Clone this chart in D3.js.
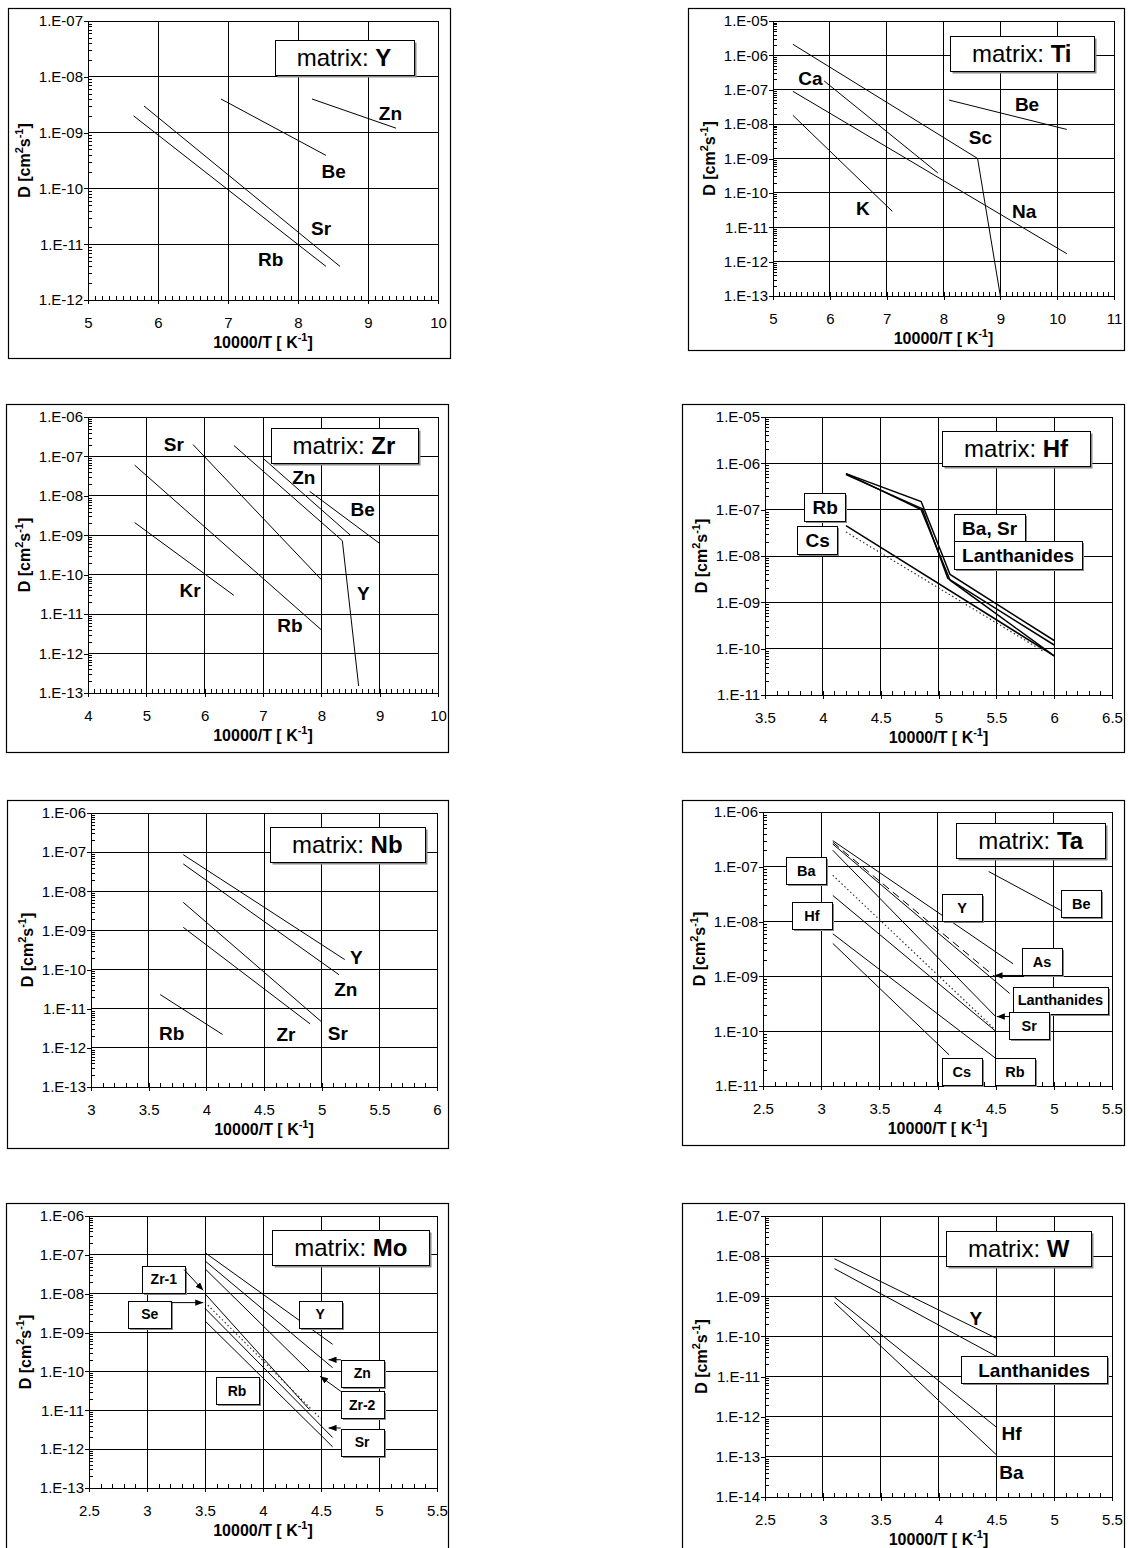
<!DOCTYPE html>
<html>
<head>
<meta charset="utf-8">
<script src="https://cdn.jsdelivr.net/npm/d3@7"></script>
<style>
  html, body { margin: 0; padding: 0; background: #fff; }
  svg { display: block; font-family: "Liberation Sans", Arial, Helvetica, sans-serif; }
  text { white-space: pre; }
</style>
</head>
<body>
<svg id="chart" width="1128" height="1548"></svg>
<script>
// Arrhenius plots: diffusion coefficient D [cm^2 s^-1] of impurity elements
// against 10000/T in eight metal matrices. Each series is a straight or
// kinked segment given by [10000/T, D] points.

// ---------- matrix: Y ----------
const yMatrixX = [5, 10];
const yMatrixD = [1e-12, 1e-7];
const yMatrixSeries = [
  { el: 'Rb', pts: [[5.65, 2.0e-9], [8.4, 4.0e-12]] },
  { el: 'Sr', pts: [[5.8, 3.0e-9], [8.6, 4.0e-12]] },
  { el: 'Be', pts: [[6.9, 4.0e-9], [8.4, 3.9e-10]] },
  { el: 'Zn', pts: [[8.2, 4.0e-9], [9.4, 1.2e-9]] }
];
const yMatrixLabels = [
  { text: 'Zn', at: [9.32, 2.2e-9] },
  { text: 'Be', at: [8.51, 2.0e-10] },
  { text: 'Sr', at: [8.33, 1.9e-11] },
  { text: 'Rb', at: [7.61, 5.3e-12] }
];

// ---------- matrix: Ti ----------
const tiMatrixX = [5, 11];
const tiMatrixD = [1e-13, 1e-5];
const tiMatrixSeries = [
  { el: 'Sc', pts: [[5.35, 2.1e-6], [8.6, 1.0e-9], [9.0, 1.0e-13]] },
  { el: 'Ca', pts: [[5.9, 1.8e-7], [7.9, 3.8e-10]] },
  { el: 'Na', pts: [[5.35, 9.0e-8], [10.17, 1.7e-12]] },
  { el: 'K',  pts: [[5.35, 1.8e-8], [7.1, 2.9e-11]] },
  { el: 'Be', pts: [[8.1, 5.0e-8], [10.17, 7.0e-9]] }
];
const tiMatrixLabels = [
  { text: 'Ca', at: [5.66, 2.2e-7] },
  { text: 'Be', at: [9.47, 3.8e-8] },
  { text: 'Sc', at: [8.65, 4.2e-9] },
  { text: 'K',  at: [6.58, 3.7e-11] },
  { text: 'Na', at: [9.42, 3.0e-11] }
];

// ---------- matrix: Zr ----------
const zrMatrixX = [4, 10];
const zrMatrixD = [1e-13, 1e-6];
const zrMatrixSeries = [
  { el: 'Sr', pts: [[5.8, 2.0e-7], [8.0, 7.5e-11]] },
  { el: 'Rb', pts: [[4.8, 6.0e-8], [8.0, 4.0e-12]] },
  { el: 'Kr', pts: [[4.8, 2.1e-9], [6.5, 3.0e-11]] },
  { el: 'Y',  pts: [[6.5, 1.9e-7], [8.36, 7.3e-10], [8.64, 1.5e-13]] },
  { el: 'Zn', pts: [[7.0, 9.0e-8], [8.5, 1.0e-9]] },
  { el: 'Be', pts: [[7.8, 1.3e-8], [9.0, 6.2e-10]] }
];
const zrMatrixLabels = [
  { text: 'Sr', at: [5.47, 2.0e-7] },
  { text: 'Zn', at: [7.70, 3.0e-8] },
  { text: 'Be', at: [8.71, 4.6e-9] },
  { text: 'Kr', at: [5.75, 4.1e-11] },
  { text: 'Y',  at: [8.72, 3.4e-11] },
  { text: 'Rb', at: [7.46, 5.2e-12] }
];

// ---------- matrix: Hf ----------
const hfMatrixX = [3.5, 6.5];
const hfMatrixD = [1e-11, 1e-5];
const hfMatrixSeries = [
  { el: 'Ba', pts: [[4.2, 6.0e-7], [4.85, 1.5e-7], [5.1, 4.0e-9], [6.0, 1.5e-10]] },
  { el: 'Sr', pts: [[4.2, 6.0e-7], [4.85, 1.0e-7], [5.1, 3.0e-9], [6.0, 7.0e-11]] },
  { el: 'Lanthanides', pts: [[4.2, 5.7e-7], [4.86, 1.05e-7], [5.08, 3.3e-9], [6.0, 1.2e-10]] },
  { el: 'Rb', pts: [[4.2, 4.5e-8], [6.0, 7.0e-11]] },
  { el: 'Cs', pts: [[4.2, 3.3e-8], [5.9, 9.0e-11]] }
];
const hfMatrixLabels = [
  { text: 'Rb', at: [4.02, 1.13e-7] },
  { text: 'Cs', at: [3.955, 2.23e-8] },
  { text: 'Ba, Sr', at: [5.135, 4.0e-8] },
  { text: 'Lanthanides', at: [5.135, 1.03e-8] }
];

// ---------- matrix: Nb ----------
const nbMatrixX = [3, 6];
const nbMatrixD = [1e-13, 1e-6];
const nbMatrixSeries = [
  { el: 'Y',  pts: [[3.8, 8.6e-8], [5.2, 1.8e-10]] },
  { el: 'Zn', pts: [[3.8, 5.0e-8], [5.15, 7.4e-11]] },
  { el: 'Sr', pts: [[3.8, 5.2e-9], [5.0, 4.6e-12]] },
  { el: 'Zr', pts: [[3.8, 1.2e-9], [4.9, 4.1e-12]] },
  { el: 'Rb', pts: [[3.6, 2.3e-11], [4.14, 2.2e-12]] }
];
const nbMatrixLabels = [
  { text: 'Y',  at: [5.30, 2.1e-10] },
  { text: 'Zn', at: [5.21, 3.1e-11] },
  { text: 'Sr', at: [5.14, 2.4e-12] },
  { text: 'Zr', at: [4.69, 2.2e-12] },
  { text: 'Rb', at: [3.70, 2.4e-12] }
];

// ---------- matrix: Ta ----------
const taMatrixX = [2.5, 5.5];
const taMatrixD = [1e-11, 1e-6];
const taMatrixSeries = [
  { el: 'Y',  pts: [[3.1, 3.0e-7], [4.65, 1.7e-9]] },
  { el: 'As', pts: [[3.1, 2.8e-7], [4.49, 1.0e-9]] },
  { el: 'Lanthanides', pts: [[3.1, 2.6e-7], [4.62, 4.9e-10]] },
  { el: 'Sr', pts: [[3.1, 2.0e-7], [4.5, 1.85e-10]] },
  { el: 'Ba', pts: [[3.1, 7.0e-8], [4.5, 1.05e-10]] },
  { el: 'Hf', pts: [[3.1, 3.0e-8], [4.5, 1.0e-10]] },
  { el: 'Rb', pts: [[3.1, 6.0e-9], [4.5, 3.2e-11]] },
  { el: 'Cs', pts: [[3.1, 4.0e-9], [4.1, 3.7e-11]] },
  { el: 'Be', pts: [[4.44, 8.2e-8], [5.06, 1.6e-8]] }
];
const taMatrixLabels = [
  { text: 'Ba', at: [2.872, 8.6e-8] },
  { text: 'Hf', at: [2.921, 1.3e-8] },
  { text: 'Y',  at: [4.211, 1.79e-8] },
  { text: 'Be', at: [5.236, 2.1e-8] },
  { text: 'As', at: [4.898, 1.84e-9] },
  { text: 'Lanthanides', at: [5.056, 3.7e-10] },
  { text: 'Sr', at: [4.789, 1.25e-10] },
  { text: 'Cs', at: [4.208, 1.83e-11] },
  { text: 'Rb', at: [4.666, 1.83e-11] }
];
const taMatrixArrows = [
  { from: [4.729, 1.04e-9], to: [4.49, 1.04e-9] },
  { from: [4.62, 1.85e-10], to: [4.51, 1.85e-10] }
];

// ---------- matrix: Mo ----------
const moMatrixX = [2.5, 5.5];
const moMatrixD = [1e-13, 1e-6];
const moMatrixSeries = [
  { el: 'Y',    pts: [[3.5, 1.14e-7], [4.6, 5.0e-10]] },
  { el: 'Zn',   pts: [[3.5, 7.0e-8], [4.6, 1.25e-10]] },
  { el: 'Zr-2', pts: [[3.5, 4.4e-8], [4.4, 1.0e-10]] },
  { el: 'Zr-1', pts: [[3.5, 1.0e-8], [4.4, 1.05e-11]] },
  { el: 'Se',   pts: [[3.5, 6.0e-9], [4.5, 6.0e-12]] },
  { el: 'Sr',   pts: [[3.5, 4.2e-9], [4.6, 2.0e-12]] },
  { el: 'Rb',   pts: [[3.5, 2.0e-9], [4.6, 1.15e-12]] }
];
const moMatrixLabels = [
  { text: 'Zr-1', at: [3.145, 2.35e-8] },
  { text: 'Se',   at: [3.024, 2.95e-9] },
  { text: 'Y',    at: [4.492, 3.0e-9] },
  { text: 'Zn',   at: [4.855, 8.9e-11] },
  { text: 'Zr-2', at: [4.855, 1.37e-11] },
  { text: 'Sr',   at: [4.855, 1.5e-12] },
  { text: 'Rb',   at: [3.776, 3.2e-11] }
];
const moMatrixArrows = [
  { from: [3.32, 4.16e-8], to: [3.485, 1.22e-8] },
  { from: [3.205, 5.9e-9], to: [3.485, 5.9e-9] },
  { from: [4.671, 2.0e-10], to: [4.565, 2.0e-10] },
  { from: [4.671, 3.08e-11], to: [4.492, 7.5e-11] },
  { from: [4.671, 3.5e-12], to: [4.565, 3.5e-12] }
];

// ---------- matrix: W ----------
const wMatrixX = [2.5, 5.5];
const wMatrixD = [1e-14, 1e-7];
const wMatrixSeries = [
  { el: 'Y',  pts: [[3.1, 8.6e-9], [4.5, 9.0e-11]] },
  { el: 'Lanthanides', pts: [[3.1, 4.9e-9], [4.5, 3.2e-11]] },
  { el: 'Hf', pts: [[3.1, 9.6e-10], [4.5, 5.5e-13]] },
  { el: 'Ba', pts: [[3.1, 7.0e-10], [4.5, 1.13e-13]] }
];
const wMatrixLabels = [
  { text: 'Y',  at: [4.323, 2.8e-10] },
  { text: 'Lanthanides', at: [4.827, 1.46e-11] },
  { text: 'Hf', at: [4.631, 3.8e-13] },
  { text: 'Ba', at: [4.631, 4.2e-14] }
];

// Where each matrix name box sits, in data units of its own panel.
const matrixNames = ['Y', 'Ti', 'Zr', 'Hf', 'Nb', 'Ta', 'Mo', 'W'];
const matrixNameAt = [
  [8.657, 2.23e-8], [9.377, 1.12e-6], [8.387, 1.92e-7], [5.671, 2.08e-6],
  [5.222, 1.58e-7], [4.801, 3.08e-7], [4.757, 1.53e-7], [4.694, 1.56e-8]
];

// ---------- page layout (pixels) and drawing styles ----------
const panels = [
  { frame: [8, 8, 450, 358],     plot: [88, 21, 438, 300],    xDomain: yMatrixX,  dDomain: yMatrixD,  xStep: 1,
    series: yMatrixSeries,  labels: yMatrixLabels,  labelSize: 19 },
  { frame: [688, 8, 1124, 350],  plot: [773, 21, 1114, 296],  xDomain: tiMatrixX, dDomain: tiMatrixD, xStep: 1,
    series: tiMatrixSeries, labels: tiMatrixLabels, labelSize: 19 },
  { frame: [6, 404, 448, 752],   plot: [88, 417, 438, 693],   xDomain: zrMatrixX, dDomain: zrMatrixD, xStep: 1,
    series: zrMatrixSeries, labels: zrMatrixLabels, labelSize: 19 },
  { frame: [682, 404, 1124, 752], plot: [765, 417, 1112, 695], xDomain: hfMatrixX, dDomain: hfMatrixD, xStep: 0.5,
    series: hfMatrixSeries, labels: hfMatrixLabels, labelSize: 19, lineWidth: 1.5,
    styles: { Cs: 'dot' }, boxed: 'all', boxPad: 8, boxMinW: 40, boxH: 28, alignLeft: ['Ba, Sr', 'Lanthanides'] },
  { frame: [7, 800, 448, 1148],  plot: [91, 813, 437, 1087],  xDomain: nbMatrixX, dDomain: nbMatrixD, xStep: 0.5,
    series: nbMatrixSeries, labels: nbMatrixLabels, labelSize: 19 },
  { frame: [682, 800, 1124, 1145], plot: [763, 812, 1112, 1086], xDomain: taMatrixX, dDomain: taMatrixD, xStep: 0.5,
    series: taMatrixSeries, labels: taMatrixLabels, labelSize: 14.5, arrows: taMatrixArrows,
    styles: { As: 'dash', Ba: 'dot' }, boxed: 'all', boxPad: 5, boxMinW: 40, boxH: 27 },
  { frame: [6, 1203, 448, 1600], plot: [89, 1216, 437, 1488], xDomain: moMatrixX, dDomain: moMatrixD, xStep: 0.5,
    series: moMatrixSeries, labels: moMatrixLabels, labelSize: 14, arrows: moMatrixArrows,
    styles: { Se: 'dot' }, boxed: 'all', boxPad: 5, boxMinW: 43, boxH: 27 },
  { frame: [682, 1203, 1124, 1600], plot: [765, 1216, 1112, 1497], xDomain: wMatrixX, dDomain: wMatrixD, xStep: 0.5,
    series: wMatrixSeries, labels: wMatrixLabels, labelSize: 19,
    boxed: ['Lanthanides'], boxPad: 17, boxMinW: 40, boxH: 27 }
];

const svg = d3.select('#chart');

const defs = svg.append('defs');
defs.append('marker')
  .attr('id', 'arrowhead')
  .attr('viewBox', '0 0 10 8')
  .attr('refX', 10).attr('refY', 4)
  .attr('markerWidth', 8).attr('markerHeight', 6.4)
  .attr('markerUnits', 'userSpaceOnUse')
  .attr('orient', 'auto')
  .append('path').attr('d', 'M0,0 L10,4 L0,8 Z').attr('fill', '#000');

const fmtE = d => {
  const e = Math.round(Math.log10(d));
  return '1.E' + (e < 0 ? '-' : '+') + String(Math.abs(e)).padStart(2, '0');
};
const fmtX = d => String(Math.round(d * 10) / 10);

// Text with raised parts, e.g. cm² s⁻¹
function richText(sel, parts, size) {
  const sup = Math.round(size * 0.68);
  let raised = false;
  parts.forEach(([txt, isSup]) => {
    const ts = sel.append('tspan').text(txt);
    if (isSup && !raised) { ts.attr('dy', -size * 0.42).attr('font-size', sup); raised = true; }
    else if (isSup) { ts.attr('font-size', sup); }
    else if (!isSup && raised) { ts.attr('dy', size * 0.42); raised = false; }
  });
}

function boxRect(g, before, x0, y0, w, h, shadow) {
  g.insert('rect', () => before)
    .attr('x', x0 + shadow).attr('y', y0 + shadow).attr('width', w).attr('height', h)
    .attr('fill', '#8a8a8a');
  g.insert('rect', () => before)
    .attr('x', x0).attr('y', y0).attr('width', w).attr('height', h)
    .attr('fill', '#fff').attr('stroke', '#000').attr('stroke-width', 1);
}

panels.forEach((p, idx) => {
  const [fx0, fy0, fx1, fy1] = p.frame;
  const [px0, py0, px1, py1] = p.plot;
  const g = svg.append('g');

  g.append('rect')
    .attr('x', fx0 + 0.5).attr('y', fy0 + 0.5)
    .attr('width', fx1 - fx0).attr('height', fy1 - fy0)
    .attr('fill', '#fff').attr('stroke', '#000').attr('stroke-width', 1.2);

  const x = d3.scaleLinear().domain(p.xDomain).range([px0, px1]);
  const y = d3.scaleLog().domain(p.dDomain).range([py1, py0]);

  const e0 = Math.round(Math.log10(p.dDomain[0]));
  const e1 = Math.round(Math.log10(p.dDomain[1]));
  const majorD = d3.range(e0, e1 + 1).map(e => Math.pow(10, e));
  const minorD = [];
  for (let e = e0; e < e1; e++) for (let m = 2; m <= 9; m++) minorD.push(m * Math.pow(10, e));
  const nMaj = Math.round((p.xDomain[1] - p.xDomain[0]) / p.xStep);
  const majorX = d3.range(nMaj + 1).map(i => p.xDomain[0] + i * p.xStep);
  const nMin = Math.round((p.xDomain[1] - p.xDomain[0]) * 10);
  const minorX = d3.range(nMin + 1).map(i => p.xDomain[0] + i / 10);

  // major grid
  const grid = g.append('g').attr('stroke', '#000').attr('stroke-width', 1).attr('shape-rendering', 'crispEdges');
  grid.selectAll('line.v').data(majorX).join('line').attr('class', 'v')
    .attr('x1', d => x(d)).attr('x2', d => x(d)).attr('y1', py0).attr('y2', py1);
  grid.selectAll('line.h').data(majorD).join('line').attr('class', 'h')
    .attr('y1', d => y(d)).attr('y2', d => y(d)).attr('x1', px0).attr('x2', px1);
  g.append('rect').attr('x', px0).attr('y', py0).attr('width', px1 - px0).attr('height', py1 - py0)
    .attr('fill', 'none').attr('stroke', '#000').attr('shape-rendering', 'crispEdges');

  const styleAxis = sel => sel
    .attr('font-family', '"Liberation Sans", Arial, sans-serif')
    .attr('font-size', 15)
    .attr('shape-rendering', 'crispEdges');

  // minor ticks (inside)
  g.append('g').attr('transform', `translate(${px0},0)`)
    .call(d3.axisLeft(y).tickValues(minorD).tickFormat('').tickSizeInner(-4).tickSizeOuter(0))
    .call(styleAxis).select('.domain').remove();
  g.append('g').attr('transform', `translate(0,${py1})`)
    .call(d3.axisBottom(x).tickValues(minorX).tickFormat('').tickSizeInner(-4).tickSizeOuter(0))
    .call(styleAxis).select('.domain').remove();

  // major axes
  g.append('g').attr('transform', `translate(${px0},0)`)
    .call(d3.axisLeft(y).tickValues(majorD).tickFormat(fmtE).tickSizeInner(4).tickSizeOuter(0).tickPadding(1))
    .call(styleAxis);
  g.append('g').attr('transform', `translate(0,${py1})`)
    .call(d3.axisBottom(x).tickValues(majorX).tickFormat(fmtX).tickSizeInner(4).tickSizeOuter(0).tickPadding(13))
    .call(styleAxis);

  // axis titles
  const xt = g.append('text')
    .attr('x', (px0 + px1) / 2).attr('y', py1 + 48)
    .attr('text-anchor', 'middle').attr('font-weight', 'bold').attr('font-size', 16);
  richText(xt, [['10000/T [ K', false], ['-1', true], [']', false]], 16);
  const yt = g.append('text')
    .attr('transform', `translate(${px0 - 58},${(py0 + py1) / 2}) rotate(-90)`)
    .attr('text-anchor', 'middle').attr('font-weight', 'bold').attr('font-size', 16);
  richText(yt, [['D [cm', false], ['2', true], ['s', false], ['-1', true], [']', false]], 16);

  // series
  const line = d3.line().x(d => x(d[0])).y(d => y(d[1]));
  const styles = p.styles || {};
  g.append('g').selectAll('path').data(p.series).join('path')
    .attr('d', s => line(s.pts))
    .attr('fill', 'none')
    .attr('stroke', s => styles[s.el] === 'dot' ? '#333' : '#000')
    .attr('stroke-width', s => styles[s.el] === 'dot' ? 1.2 : (p.lineWidth || 1))
    .attr('stroke-dasharray', s => styles[s.el] === 'dash' ? '8,5' : styles[s.el] === 'dot' ? '1.5,2.5' : null);

  // labels
  const isBoxed = l => p.boxed === 'all' || (Array.isArray(p.boxed) && p.boxed.includes(l.text));
  const alignLeft = p.alignLeft || [];
  p.labels.forEach(l => {
    const fs = p.labelSize;
    const t = g.append('text')
      .attr('font-weight', 'bold').attr('font-size', fs)
      .attr('text-anchor', 'middle').text(l.text);
    const tw = t.node().getComputedTextLength();
    const boxed = isBoxed(l);
    const w = boxed ? Math.max(p.boxMinW, tw + 2 * p.boxPad) : tw;
    const cx = alignLeft.includes(l.text) ? x(l.at[0]) + w / 2 : x(l.at[0]);
    const cy = y(l.at[1]);
    t.attr('x', cx).attr('y', cy + fs * 0.36);
    if (boxed) boxRect(g, t.node(), Math.round(cx - w / 2) + 0.5, Math.round(cy - p.boxH / 2) + 0.5, Math.round(w), p.boxH, 1.5);
  });

  // arrows from boxes to their curves
  (p.arrows || []).forEach(a => {
    g.append('line')
      .attr('x1', x(a.from[0])).attr('y1', y(a.from[1]))
      .attr('x2', x(a.to[0])).attr('y2', y(a.to[1]))
      .attr('stroke', '#000').attr('stroke-width', 1)
      .attr('marker-end', 'url(#arrowhead)');
  });

  // matrix name box
  const at = matrixNameAt[idx];
  const mt = g.append('text').attr('text-anchor', 'middle').attr('font-size', 24);
  mt.append('tspan').text('matrix: ');
  mt.append('tspan').attr('font-weight', 'bold').text(matrixNames[idx]);
  const mw = mt.node().getComputedTextLength() + 44;
  const mcx = x(at[0]), mcy = y(at[1]);
  mt.attr('x', mcx).attr('y', mcy + 24 * 0.36);
  boxRect(g, mt.node(), Math.round(mcx - mw / 2) + 0.5, Math.round(mcy - 17.5) + 0.5, Math.round(mw), 35, 2);
});
</script>
</body>
</html>
